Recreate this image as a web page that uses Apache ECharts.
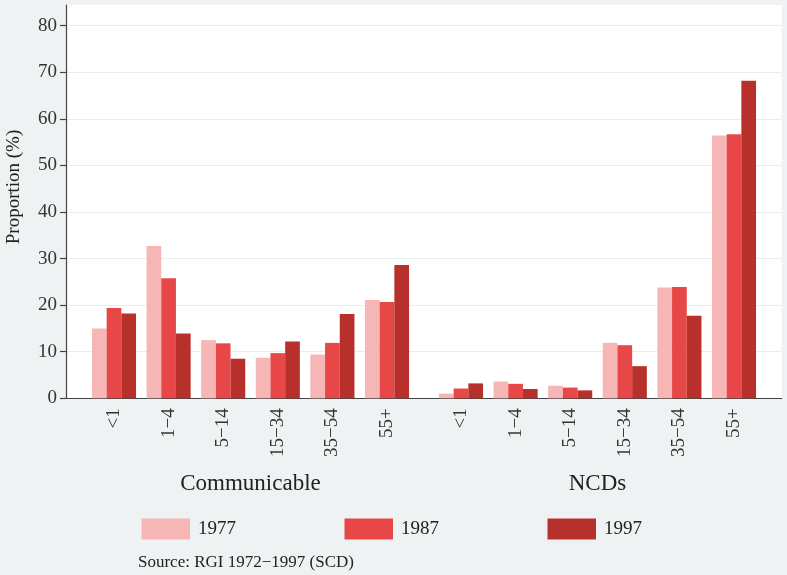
<!DOCTYPE html>
<html>
<head>
<meta charset="utf-8">
<script src="https://cdn.jsdelivr.net/npm/echarts@6/dist/echarts.min.js"></script>
<style>
html,body{margin:0;padding:0;background:#eef2f2;}
#chart{width:787px;height:575px;}
</style>
</head>
<body>
<div id="chart"></div>
<script>
// ---- data ----
var ageGroups = ['<1', '1\u22124', '5\u221214', '15\u221234', '35\u221254', '55+'];
var groupNames = ['Communicable', 'NCDs'];
var years = ['1977', '1987', '1997'];
var comm1977 = [15.0, 32.7, 12.5, 8.7, 9.4, 21.1];
var comm1987 = [19.4, 25.8, 11.8, 9.7, 11.9, 20.7];
var comm1997 = [18.2, 13.9, 8.5, 12.2, 18.1, 28.6];
var ncd1977 = [1.0, 3.6, 2.7, 11.9, 23.8, 56.4];
var ncd1987 = [2.1, 3.1, 2.3, 11.4, 23.9, 56.7];
var ncd1997 = [3.2, 2.0, 1.7, 6.9, 17.7, 68.2];
var yTicks = [0, 10, 20, 30, 40, 50, 60, 70, 80];
var yTitle = 'Proportion (%)';
var sourceNote = 'Source: RGI 1972\u22121997 (SCD)';

// ---- styling ----
var FONT = '"Liberation Serif", "Times New Roman", serif';
var colors = ['#f7b6b6', '#e84747', '#b7302c'];
var plotTop = 25.7, plotBottom = 575 - 398.3;
var bandW = 327.6;

var chart = echarts.init(document.getElementById('chart'));

function barGridAxis(gi, left, name) {
  return {
    grid: {left: left, width: bandW, top: plotTop, bottom: plotBottom},
    x: {
      type: 'category', gridIndex: gi, data: ageGroups,
      axisLine: {show: false}, axisTick: {show: false}, splitLine: {show: false},
      axisLabel: {rotate: 90, margin: 10, fontFamily: FONT, fontSize: 19, color: '#333', interval: 0},
      name: name, nameLocation: 'middle', nameGap: 74,
      nameTextStyle: {fontFamily: FONT, fontSize: 23, color: '#222'}
    },
    y: {type: 'value', gridIndex: gi, min: yTicks[0], max: yTicks[yTicks.length - 1], show: false}
  };
}
var g2 = barGridAxis(2, 86.7, groupNames[0]);
var g3 = barGridAxis(3, 433.7, groupNames[1]);

function barSeries(name, data, ci, axisIdx) {
  return {
    name: name, type: 'bar', data: data,
    xAxisIndex: axisIdx, yAxisIndex: axisIdx,
    barWidth: 14.7, barGap: '0%',
    itemStyle: {color: colors[ci]},
    emphasis: {disabled: true}
  };
}

var option = {
  backgroundColor: '#eef2f2',
  animation: false,
  grid: [
    {left: 66, right: 5.3, top: 5, bottom: plotBottom, show: true, backgroundColor: '#ffffff', borderWidth: 0},
    {left: 66, right: 5.3, top: plotTop, bottom: plotBottom},
    g2.grid, g3.grid
  ],
  xAxis: [
    {type: 'value', gridIndex: 0, min: 0, max: 1,
     axisLine: {show: true, onZero: false, lineStyle: {color: '#444', width: 1.2}},
     axisTick: {show: false}, axisLabel: {show: false}, splitLine: {show: false}},
    {type: 'value', gridIndex: 1, min: 0, max: 1, show: false},
    g2.x, g3.x
  ],
  yAxis: [
    {type: 'value', gridIndex: 0, min: 0, max: 1,
     axisLine: {show: true, lineStyle: {color: '#444', width: 1.2}},
     axisTick: {show: false}, axisLabel: {show: false}, splitLine: {show: false}},
    {type: 'value', gridIndex: 1, min: yTicks[0], max: yTicks[yTicks.length - 1], interval: 10,
     axisLine: {show: false},
     axisTick: {show: true, inside: false, length: 6, lineStyle: {color: '#444', width: 1.2}},
     axisLabel: {margin: 9, fontFamily: FONT, fontSize: 19, color: '#333'},
     splitLine: {show: true, lineStyle: {color: '#e8eded', width: 1.2}}},
    g2.y, g3.y
  ],
  legend: {
    data: years,
    left: 141.5, top: 518.5,
    padding: 0,
    orient: 'horizontal',
    icon: 'rect',
    itemWidth: 48.5, itemHeight: 21,
    itemGap: 108.5,
    textStyle: {fontFamily: FONT, fontSize: 19, color: '#222', padding: [0, 0, 0, 3]},
    selectedMode: false
  },
  graphic: [
    {type: 'text', x: 14, y: 187, rotation: Math.PI / 2,
     style: {text: yTitle, font: '19px ' + FONT, fill: '#222', align: 'center', verticalAlign: 'middle'}},
    {type: 'text', x: 138, y: 563,
     style: {text: sourceNote, font: '17px ' + FONT, fill: '#222', align: 'left', verticalAlign: 'middle'}}
  ],
  series: [
    barSeries(years[0], comm1977, 0, 2),
    barSeries(years[1], comm1987, 1, 2),
    barSeries(years[2], comm1997, 2, 2),
    barSeries(years[0], ncd1977, 0, 3),
    barSeries(years[1], ncd1987, 1, 3),
    barSeries(years[2], ncd1997, 2, 3)
  ]
};
chart.setOption(option);
</script>
</body>
</html>
